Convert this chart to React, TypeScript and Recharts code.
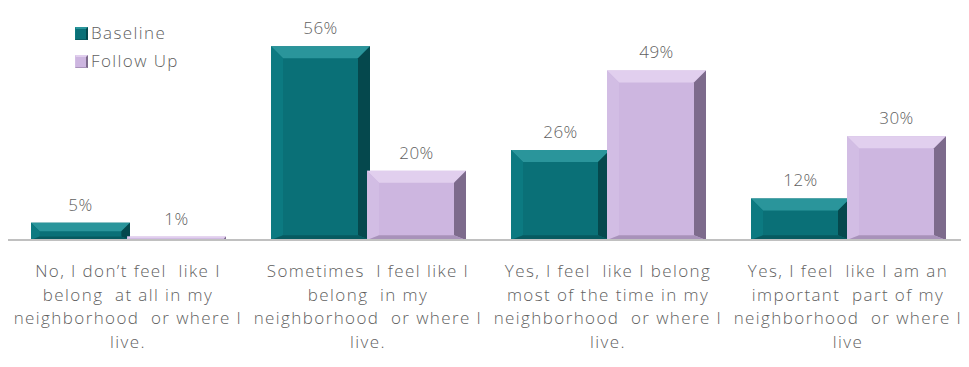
import { BarChart, Bar, XAxis, YAxis, LabelList } from 'recharts';

const categories = ['No', 'Sometimes', 'Most', 'Important'];
const tickLines = [
  ['No, I don\u2019t feel  like I', 'belong  at all in my', 'neighborhood  or where I', 'live.'],
  ['Sometimes  I feel like I', 'belong  in my', 'neighborhood  or where I', 'live.'],
  ['Yes, I feel  like I belong', 'most of the time in my', 'neighborhood  or where I', 'live.'],
  ['Yes, I feel  like I am an', 'important  part of my', 'neighborhood  or where I', 'live'],
];
const baseline = [5, 56, 26, 12];
const followUp = [1, 20, 49, 30];

const data = categories.map((c, i) => ({ cat: c, idx: i, Baseline: baseline[i], 'Follow Up': followUp[i] }));

const FONT = '"Open Sans", Lato, sans-serif';
const TEXT = '#5f5f5f';

const PALETTE = {
  teal: { main: '#0a7077', top: '#2a959b', left: '#0c7a81', right: '#05484d', bottom: '#075a60' },
  lav: { main: '#cdb6e0', top: '#e1cfee', left: '#d2bde4', right: '#7d6b8c', bottom: '#a892ba' },
};

function bevelShape(p: typeof PALETTE.teal) {
  return (props: any) => {
    const { x, y, width, height } = props;
    if (!height || height <= 0) return <g />;
    const b = Math.min(12, height / 2, width / 2);
    const x2 = x + width, y2 = y + height;
    return (
      <g>
        <rect x={x} y={y} width={width} height={height} fill={p.main} />
        <polygon points={`${x},${y} ${x2},${y} ${x2 - b},${y + b} ${x + b},${y + b}`} fill={p.top} />
        <polygon points={`${x},${y} ${x + b},${y + b} ${x + b},${y2 - b * 0.4} ${x},${y2}`} fill={p.left} />
        <polygon points={`${x2},${y} ${x2},${y2} ${x2 - b},${y2 - b * 0.4} ${x2 - b},${y + b}`} fill={p.right} />
        <polygon points={`${x},${y2} ${x2},${y2} ${x2 - b},${y2 - b * 0.4} ${x + b},${y2 - b * 0.4}`} fill={p.bottom} />
      </g>
    );
  };
}

function CatTick(props: any) {
  const { x, y, payload } = props;
  const lines = tickLines[payload.index] ?? [];
  return (
    <text x={x} y={y} textAnchor="middle" fill={TEXT} fontFamily={FONT} fontWeight={300} fontSize={17} letterSpacing={1.4}>
      {lines.map((l, i) => (
        <tspan key={i} x={x} dy={i === 0 ? 29 : 23.5} style={{ whiteSpace: 'pre' }}>{l}</tspan>
      ))}
    </text>
  );
}

function LegendBox() {
  const items = [
    { label: 'Baseline', c: PALETTE.teal },
    { label: 'Follow Up', c: PALETTE.lav },
  ];
  return (
    <div style={{ position: 'absolute', left: 67, top: 11, fontFamily: FONT, fontWeight: 300, fontSize: 17, letterSpacing: 1.4, color: TEXT, lineHeight: '28px' }}>
      {items.map(it => (
        <div key={it.label} style={{ display: 'flex', alignItems: 'center' }}>
          <span
            style={{
              display: 'inline-block', width: 10, height: 10, marginRight: 3,
              background: it.c.main, borderTop: `2px solid ${it.c.top}`, borderRight: `2px solid ${it.c.right}`,
              borderLeft: `1px solid ${it.c.left}`, borderBottom: `1px solid ${it.c.bottom}`,
            }}
          />
          {it.label}
        </div>
      ))}
    </div>
  );
}

export default function App() {
  return (
    <div style={{ position: 'relative', width: 961, height: 359, background: '#fff' }}>
      <BarChart
        width={961}
        height={359}
        data={data}
        margin={{ top: 24.4, right: 1, left: 0, bottom: 0 }}
        barCategoryGap={23}
        barGap={-3}
      >
        <XAxis
          dataKey="cat"
          height={127}
          tickLine={false}
          axisLine={{ stroke: '#c0c0c0', strokeWidth: 2 }}
          tick={<CatTick />}
          interval={0}
        />
        <YAxis hide domain={[0, 60]} />
        <Bar dataKey="Baseline" fill={PALETTE.teal.main} shape={bevelShape(PALETTE.teal)} isAnimationActive={false}>
          <LabelList dataKey="Baseline" position="top" offset={12} formatter={(v: any) => `${v}%`} fill={TEXT} fontFamily={FONT} fontWeight={300} fontSize={17} letterSpacing={0.5} />
        </Bar>
        <Bar dataKey="Follow Up" fill={PALETTE.lav.main} shape={bevelShape(PALETTE.lav)} isAnimationActive={false}>
          <LabelList dataKey="Follow Up" position="top" offset={12} formatter={(v: any) => `${v}%`} fill={TEXT} fontFamily={FONT} fontWeight={300} fontSize={17} letterSpacing={0.5} />
        </Bar>
      </BarChart>
      <LegendBox />
    </div>
  );
}
